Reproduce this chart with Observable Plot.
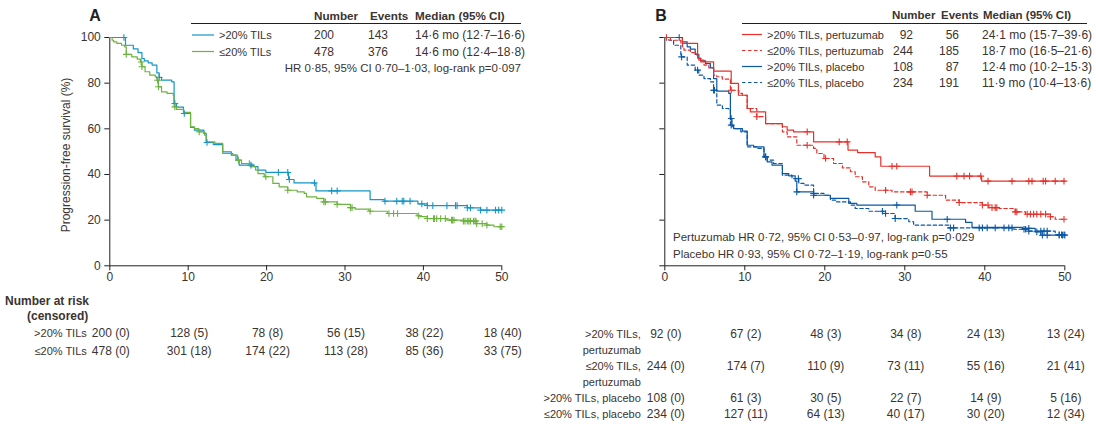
<!DOCTYPE html>
<html><head><meta charset="utf-8">
<script src="https://cdn.jsdelivr.net/npm/d3@7"></script>
<script src="https://cdn.jsdelivr.net/npm/@observablehq/plot@0.6"></script>
<style>
body{margin:0;background:#fff;}
#wrap{position:relative;width:1096px;height:434px;overflow:hidden;font-family:"Liberation Sans",Arial,sans-serif;}
#wrap > svg{position:absolute;}
</style></head><body><div id="wrap"></div>
<script>
// ---------- DATA ----------
const monthTicks = [0, 10, 20, 30, 40, 50];
const survTicks = [0, 20, 40, 60, 80, 100];

// Panel A: >20% TILs
const aHiT = [0,2.0,3.0,3.6,4.1,4.4,4.9,5.4,6.0,6.3,6.6,7.9,8.2,8.5,9.4,10.3,10.8,12.0,12.3,13.2,14.4,15.5,16.1,16.5,18.4,18.9,19.9,22.8,23.5,26.3,33.2,35.0,39.3,40.5,45.6,47.3];
const aHiS = [100,96.6,95.0,93.4,90.8,89.8,88.9,87.9,84.5,82.5,81.3,80.6,71.1,69.5,66.7,60.6,59.4,58.0,54.0,53.1,49.9,48.5,46.3,44.1,43.4,41.9,40.9,37.8,36.3,32.8,29.0,28.3,27.1,26.4,25.4,24.4];
const aHiCens = [1.8,6.3,8.3,9.5,12.4,18.0,21.5,22.7,22.9,26.1,28.3,29.0,35.1,36.6,37.3,37.5,38.3,39.8,40.5,41.2,43.0,44.1,44.3,45.6,46.0,47.3,48.1,49.2,49.6,50];
// Panel A: <=20% TILs
const aLoT = [0,0.3,0.5,0.9,1.5,1.9,2.1,2.8,3.5,3.9,4.1,4.5,5.1,5.8,6.0,6.2,6.6,7.3,8.1,8.2,8.5,9.4,10.3,10.8,11.3,12.1,12.3,13.4,14.4,15.7,16.3,16.8,18.0,18.6,18.9,19.7,20.8,21.6,22.7,23.9,24.8,25.1,26.4,27.3,29.0,30.7,31.3,33.0,33.2,35.4,39.2,39.6,40.5,43.0,45.1,46.8,48.1,49.0];
const aLoS = [100,98.8,98.1,97.4,96.6,95.9,92.6,91.5,90.5,89.3,87.2,85.0,83.5,82.8,81.3,78.4,76.2,75.5,74.7,69.6,68.5,67.2,60.9,60.1,58.7,57.2,54.3,53.6,49.2,48.5,46.3,44.8,43.4,41.9,40.4,39.0,36.1,34.6,33.1,32.4,31.7,30.2,29.5,28.0,26.9,25.5,24.8,24.4,23.9,22.9,21.9,21.5,20.7,20.0,19.6,18.5,17.8,17.1];
const aLoCens = [2.1,4.0,4.1,6.1,6.2,8.3,11.4,16.4,17.8,19.9,22.7,27.3,27.5,29.0,30.7,30.9,33.2,35.6,36.2,36.7,39.4,40.5,41.3,41.4,41.7,42.2,42.8,43.6,43.7,43.9,45.1,45.3,45.6,45.8,46.0,46.4,46.6,46.7,46.8,47.5,48.1,49.8,50];

// Panel B: >20% TILs, pertuzumab
const bHiPerT = [0,2.2,4.1,4.5,6.1,8.3,9.2,10.3,10.7,12.6,14.7,15.3,16.1,18.6,22.9,24.1,26.3,27.0,33.1,39.6];
const bHiPerS = [100,97.4,91.0,89.3,85.3,79.9,74.7,68.9,67.4,62.3,60.9,59.4,58.7,54.3,50.7,49.6,47.7,43.6,39.3,37.1];
const bHiPerCens = [0.2,17.8,21.8,22.8,28.4,29.0,36.5,37.4,38.1,39.5,40.4,43.4,45.5,45.9,47.3,47.6,48.8,49.9];
// Panel B: <=20% TILs, pertuzumab
const bLoPerT = [0,0.7,2.0,2.2,2.4,3.2,4.0,4.25,4.9,5.5,6.1,6.5,7.2,8.2,9.25,9.7,10.3,11.5,12.6,14.7,15.3,16.5,18.6,19.0,19.9,21.1,22.2,23.2,23.8,24.7,25.5,26.3,28.4,32.8,35.1,36.8,39.7,40.5,41.8,43.8,45.1,48.2,48.8];
const bLoPerS = [100,98.8,97.4,95.9,94.5,93.4,92.3,90.1,87.9,86.7,83.5,82.8,81.8,76.9,75.5,74.7,68.9,65.3,62.3,58.7,56.5,52.8,51.4,49.2,47.0,44.8,42.9,41.2,39.0,36.8,34.6,33.1,32.4,30.9,28.8,27.7,26.6,25.5,25.1,23.6,22.6,21.5,20.4];
const bLoPerCens = [8.3,11.5,17.8,20.1,27.6,30.7,30.9,32.8,36.8,39.7,40.4,40.9,41.3,41.5,43.8,44.0,45.3,45.7,46.1,46.5,47.0,47.6,48.2,49.9];
// Panel B: >20% TILs, placebo
const bHiPlaT = [0,2.2,2.8,3.2,3.8,4.25,4.5,5.1,5.7,6.1,6.5,8.0,8.2,8.4,8.6,9.7,10.3,11.1,12.4,12.8,13.4,14.7,15.5,16.3,16.5,18.6,20.7,23.0,24.0,31.3,33.4,37.6,38.4,44.7,46.3,47.0];
const bHiPlaS = [100,98.1,95.9,94.9,92.6,90.8,89.8,88.6,86.7,82.0,76.5,75.5,64.5,60.9,60.1,59.0,52.8,52.1,47.7,45.5,44.1,40.4,39.4,37.1,32.4,30.9,29.5,27.3,26.6,23.9,20.4,19.0,16.8,16.4,14.9,13.4];
const bHiPlaCens = [1.8,8.3,12.6,16.5,18.6,29.0,35.3,45.5,46.5,47.2,47.8,49.3,49.7,50];
// Panel B: <=20% TILs, placebo
const bLoPlaT = [0,0.5,1.1,2.0,2.8,3.8,4.25,4.9,5.7,6.1,6.5,7.2,8.0,8.2,8.6,9.5,10.3,11.5,12.4,12.8,13.6,14.7,15.9,16.75,17.4,18.6,19.9,20.7,21.5,23.2,23.8,25.5,27.4,28.8,30.5,31.1,35.5,43.5,45.5,48.8];
const bLoPlaS = [100,98.8,96.6,91.5,87.9,85.7,83.5,82.0,80.6,76.9,70.4,68.9,68.2,61.6,60.1,58.7,52.1,51.4,47.7,46.3,44.8,39.7,38.2,36.1,35.3,31.7,30.9,28.8,28.0,26.6,25.1,23.9,22.9,20.7,19.3,17.8,16.6,16.0,15.2,13.6];
const bLoPlaCens = [2.1,4.1,6.1,6.2,8.3,12.6,16.7,18.6,27.2,27.6,28.8,35.7,36.1,39.3,39.7,40.3,41.3,42.4,43.0,43.4,44.9,45.1,45.5,47.0,47.4,47.8,49.3,49.6,49.9];

// Number at risk (censored)
const riskTimes = [0, 10, 20, 30, 40, 50];
const riskAHiN = [200,128,78,56,38,18];   const riskAHiC = [0,5,8,15,22,40];
const riskALoN = [478,301,174,113,85,33]; const riskALoC = [0,18,22,28,36,75];
const riskBHiPerN = [92,67,48,34,24,13];  const riskBHiPerC = [0,2,3,8,13,24];
const riskBLoPerN = [244,174,110,73,55,21]; const riskBLoPerC = [0,7,9,11,16,41];
const riskBHiPlaN = [108,61,30,22,14,5];  const riskBHiPlaC = [0,3,5,7,9,16];
const riskBLoPlaN = [234,127,64,40,30,12]; const riskBLoPlaC = [0,11,13,17,20,34];

// Legend tables
const legendA = [
  {label: ">20% TILs", n: "200", ev: "143", med: "14·6 mo (12·7–16·6)"},
  {label: "≤20% TILs", n: "478", ev: "376", med: "14·6 mo (12·4–18·8)"}
];
const legendB = [
  {label: ">20% TILs, pertuzumab", n: "92", ev: "56", med: "24·1 mo (15·7–39·6)"},
  {label: "≤20% TILs, pertuzumab", n: "244", ev: "185", med: "18·7 mo (16·5–21·6)"},
  {label: ">20% TILs, placebo", n: "108", ev: "87", med: "12·4 mo (10·2–15·3)"},
  {label: "≤20% TILs, placebo", n: "234", ev: "191", med: "11·9 mo (10·4–13·6)"}
];
const statsA = ["HR 0·85, 95% CI 0·70–1·03, log-rank p=0·097"];
const statsB = ["Pertuzumab HR 0·72, 95% CI 0·53–0·97, log-rank p=0·029",
                "Placebo HR 0·93, 95% CI 0·72–1·19, log-rank p=0·55"];
const yLabel = "Progression-free survival (%)";

// ---------- STYLE ----------
const textColor = "#3b3430";
const axisColor = "#231f20";
const cBlueA = "#1496c6", cGreenA = "#6cb33f", cRed = "#e8302a", cBlueB = "#0b58a5";
const fontFam = "'Liberation Sans', Arial, sans-serif";

// ---------- HELPERS ----------
function stepData(T, S) {
  const d = T.map((t, i) => ({t, s: S[i]}));
  d.push({t: 50, s: S[S.length - 1]});
  return d;
}
function censData(T, S, C) {
  return C.map(c => {
    let s = S[0];
    for (let i = 0; i < T.length; i++) if (T[i] <= c) s = S[i];
    return {t: c, s};
  });
}
function series(T, S, C, color, dash) {
  return {line: stepData(T, S), cens: censData(T, S, C), color, dash};
}
function riskRows(groups) {
  return groups.filter(g => g.n).flatMap(g => riskTimes.map((t, i) => ({g: g.key, t, text: `${g.n[i]} (${g.c[i]})`})));
}

const wrap = document.getElementById("wrap");
function place(svg, left, top) {
  svg.style.left = left + "px"; svg.style.top = top + "px";
  wrap.appendChild(svg);
}

function kmPlot({width, marginLeft, marginRight, ser, showLabels}) {
  const marks = [
    Plot.ruleX([0], {y1: 0, y2: 100, stroke: axisColor, strokeWidth: 1}),
    Plot.ruleY([0], {x1: 0, x2: 50, stroke: axisColor, strokeWidth: 1}),
    Plot.axisX({ticks: monthTicks, tickSize: 5, tickPadding: 2, label: null, stroke: axisColor, fill: textColor, fontSize: 12}),
    Plot.axisY({ticks: survTicks, tickSize: 5, tickPadding: 4, label: null, stroke: axisColor, fill: textColor, fontSize: 12,
      tickFormat: showLabels ? (d => d) : (() => "")}),
    ...ser.map(s => Plot.line(s.line, {x: "t", y: "s", curve: "step-after", stroke: s.color, strokeWidth: 1.2, strokeDasharray: s.dash})),
    ...ser.map(s => Plot.dot(s.cens, {x: "t", y: "s", symbol: "plus", r: 2.3, stroke: s.color, strokeWidth: 1.1}))
  ];
  return Plot.plot({
    width, height: 290, marginLeft, marginRight, marginTop: 37, marginBottom: 24.7,
    x: {domain: [0, 50]}, y: {domain: [0, 100]},
    style: {fontFamily: fontFam, background: "transparent", overflow: "visible"},
    marks
  });
}

function riskPlot({width, marginLeft, marginRight, groups, rowRange, labelDx}) {
  return Plot.plot({
    width, height: 144, marginLeft, marginRight, marginTop: 0, marginBottom: 0,
    x: {domain: [0, 50], axis: null},
    y: {type: "point", domain: groups.map(g => g.key), range: rowRange, padding: 0, axis: null},
    style: {fontFamily: fontFam, background: "transparent", overflow: "visible"},
    marks: [
      Plot.text(riskRows(groups), {x: "t", y: "g", text: "text", fill: textColor, fontSize: 12, dx: 1}),
      Plot.text(groups, {x: () => 0, y: "key", text: "label", textAnchor: "end", dx: labelDx, fill: textColor, fontSize: 11})
    ]
  });
}

// ---------- PANEL A ----------
place(kmPlot({width: 548, marginLeft: 109.3, marginRight: 46.7, showLabels: true, ser: [
  series(aHiT, aHiS, aHiCens, cBlueA, null),
  series(aLoT, aLoS, aLoCens, cGreenA, null)
]}), 0, 0);
place(riskPlot({width: 548, marginLeft: 109.3, marginRight: 46.7, labelDx: -23, rowRange: [43, 61], groups: [
  {key: "a1", label: ">20% TILs", n: riskAHiN, c: riskAHiC},
  {key: "a2", label: "≤20% TILs", n: riskALoN, c: riskALoC}
]}), 0, 290);

// ---------- PANEL B ----------
place(kmPlot({width: 548, marginLeft: 116.3, marginRight: 31.7, showLabels: false, ser: [
  series(bLoPlaT, bLoPlaS, bLoPlaCens, cBlueB, "3.5,2.5"),
  series(bHiPlaT, bHiPlaS, bHiPlaCens, cBlueB, null),
  series(bLoPerT, bLoPerS, bLoPerCens, cRed, "3.5,2.5"),
  series(bHiPerT, bHiPerS, bHiPerCens, cRed, null)
]}), 548, 0);
place(riskPlot({width: 548, marginLeft: 116.3, marginRight: 31.7, labelDx: -24, rowRange: [43, 125], groups: [
  {key: "b1", label: ">20% TILs,", n: riskBHiPerN, c: riskBHiPerC},
  {key: "b1x", label: "pertuzumab"},
  {key: "b2", label: "≤20% TILs,", n: riskBLoPerN, c: riskBLoPerC},
  {key: "b2x", label: "pertuzumab"},
  {key: "b3", label: ">20% TILs, placebo", n: riskBHiPlaN, c: riskBHiPlaC},
  {key: "b4", label: "≤20% TILs, placebo", n: riskBLoPlaN, c: riskBLoPlaC}
]}), 548, 290);

// ---------- OVERLAY: titles, legends, stats ----------
const ov = d3.create("svg").attr("width", 1096).attr("height", 434)
  .style("left", "0px").style("top", "0px").style("pointer-events", "none")
  .style("font-family", fontFam).attr("fill", textColor);
function txt(x, y, s, opts = {}) {
  const t = ov.append("text").attr("x", x).attr("y", y).attr("dominant-baseline", "central")
    .attr("text-anchor", opts.anchor || "start").attr("font-size", opts.size || 12)
    .attr("font-weight", opts.bold ? "bold" : null).attr("fill", opts.fill || textColor).text(s);
  if (opts.rotate) t.attr("transform", `rotate(${opts.rotate},${x},${y})`);
}
// Panel A
txt(95, 15, "A", {size: 16, bold: true, anchor: "middle", fill: "#231f20"});
txt(314, 15, "Number", {bold: true, size: 11.7}); txt(370, 15, "Events", {bold: true, size: 11.7}); txt(415, 15, "Median (95% CI)", {bold: true, size: 11.7});
ov.append("line").attr("x1", 191).attr("x2", 521).attr("y1", 23.5).attr("y2", 23.5).attr("stroke", axisColor).attr("stroke-width", 1);
const aCols = [cBlueA, cGreenA];
legendA.forEach((r, i) => {
  const y = 35 + i * 16.5;
  ov.append("line").attr("x1", 192).attr("x2", 214).attr("y1", y).attr("y2", y).attr("stroke", aCols[i]).attr("stroke-width", 1.2);
  txt(219, y, r.label, {size: 11}); txt(314, y, r.n); txt(368, y, r.ev); txt(415, y, r.med);
});
txt(521, 68, statsA[0], {anchor: "end", size: 11.5});
txt(66, 155, yLabel, {anchor: "middle", size: 12, rotate: -90});
txt(5, 301, "Number at risk", {bold: true}); txt(27, 316, "(censored)", {bold: true});
// Panel B
txt(661, 15, "B", {size: 16, bold: true, anchor: "middle", fill: "#231f20"});
txt(892, 15, "Number", {bold: true, size: 11.5}); txt(941, 15, "Events", {bold: true, size: 11.5}); txt(983, 15, "Median (95% CI)", {bold: true, size: 11.5});
ov.append("line").attr("x1", 742).attr("x2", 1087).attr("y1", 23.5).attr("y2", 23.5).attr("stroke", axisColor).attr("stroke-width", 1);
const bCols = [cRed, cRed, cBlueB, cBlueB], bDash = [null, "3.5,2.5", null, "3.5,2.5"];
legendB.forEach((r, i) => {
  const y = 34.5 + i * 16;
  ov.append("line").attr("x1", 742).attr("x2", 762).attr("y1", y).attr("y2", y).attr("stroke", bCols[i]).attr("stroke-width", 1.2).attr("stroke-dasharray", bDash[i]);
  txt(767, y, r.label, {size: 11}); txt(913, y, r.n, {anchor: "end"}); txt(959, y, r.ev, {anchor: "end"}); txt(982, y, r.med);
});
txt(673, 237, statsB[0], {size: 11.5}); txt(673, 254, statsB[1], {size: 11.5});
wrap.appendChild(ov.node());
ov.node().style.position = "absolute";
</script>
</body></html>
